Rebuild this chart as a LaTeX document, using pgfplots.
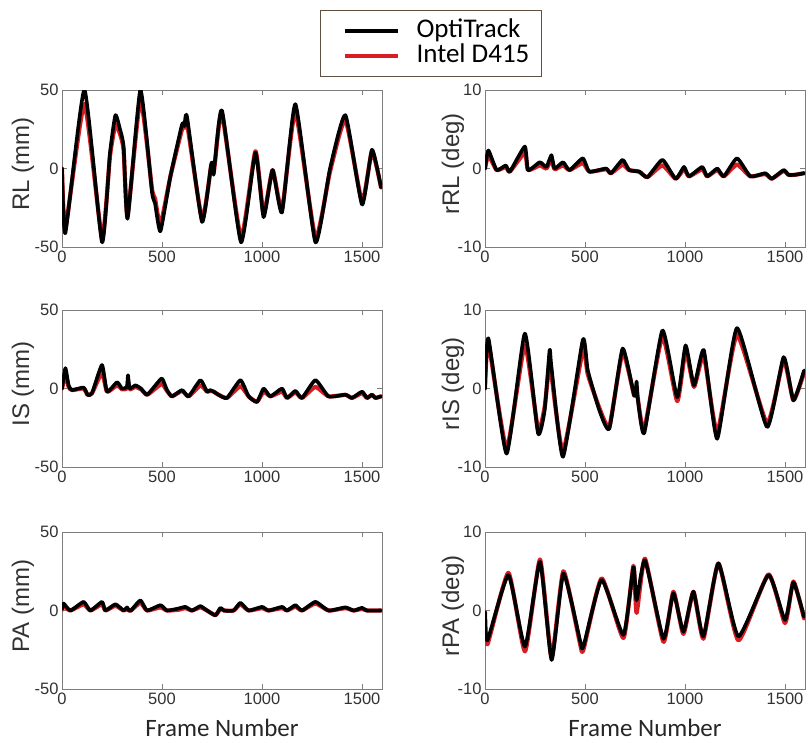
\documentclass[border=0pt]{standalone}
\usepackage{pgfplots}
\pgfplotsset{compat=1.18}
\usepackage{pgfplotstable}
\usepackage{fontspec}
\setmainfont{Liberation Sans}
\newfontfamily\arialf{Liberation Sans}
\newfontfamily\calibri{Carlito}
\definecolor{intelred}{RGB}{215,30,35}
\definecolor{axgray}{RGB}{125,125,125}
\definecolor{txtgray}{RGB}{50,50,50}
\definecolor{legframe}{RGB}{95,80,65}

\pgfplotstableread{
x o i
0 0 0
17 -41 -38
112 50 41
200 -47 -44
240 10 8
267 34 28
290 25 22
308 14 12
328 -32 -30
392 50 44
450 -15 -13
465 -22 -19
492 -40 -36
542 -5 -5
600 28 25
612 27 26
625 33 29
700 -34 -32
745 2 1
752 3 3
758 -4 -3
765 5 4
800 37 35
895 -47 -44
967 10 11
1008 -31 -29
1053 -1 -1
1100 -28 -26
1167 41 36
1267 -47 -44
1340 0 -2
1417 34 31
1500 -23 -21
1550 12 11
1595 -12 -12
}\RL

\pgfplotstableread{
x o i
0 0 0
17 2.3 1.7
58 -0.2 -0.2
104 0.4 0.2
124 -0.4 -0.4
199 2.8 2.0
215 -0.2 -0.2
274 0.8 0.4
307 0.2 0.0
332 1.7 1.1
348 0 -0.1
390 0.8 0.4
423 -0.2 -0.2
489 1.3 0.7
522 -0.4 -0.4
605 0 -0.1
630 -0.6 -0.6
688 1.1 0.5
721 -0.2 -0.2
771 -0.4 -0.4
812 -1.1 -1.1
887 1.1 0.4
953 -1.3 -1.3
995 0.2 -0.1
1020 -1.0 -1.0
1086 0.2 -0.1
1111 -1.0 -1.0
1161 0 -0.2
1194 -1.0 -1.0
1260 1.3 0.5
1327 -1.0 -1.0
1401 -0.6 -0.7
1434 -1.3 -1.3
1493 -0.2 -0.3
1517 -0.8 -0.8
1550 -0.8 -0.8
1595 -0.6 -0.6
}\rRL

\pgfplotstableread{
x o i
0 0 0
17 13 9
33 2 1
50 -1 -1
108 0.6 0
128 -4 -4
150 -3 -3
200 15 10
225 -2 -2
275 4 2
300 0 -0.5
325 1 0
330 8.5 5
338 0 -0.5
367 2 1
395 0 -0.5
425 -4 -4
467 2 0
500 6.4 3
525 -1 -1.5
550 -5 -5
600 -1 -1.5
633 -5 -5
692 5.3 2
725 -2 -2
740 -1 -1.5
758 -2 -2
783 -4 -4
825 -6 -6
892 5.3 1.5
933 -5 -5
975 -8.5 -8.5
1008 0 -2
1042 -5 -5
1100 0 -2
1125 -6 -6
1167 -1.5 -2.5
1200 -6 -6
1267 5.3 1
1333 -5 -5
1417 -4 -4
1450 -6 -6
1500 -2 -3
1525 -6 -6
1550 -4 -4
1567 -6 -6
1595 -5 -5
}\IS

\pgfplotstableread{
x o i
0 0 0
17 6.4 5.8
108 -8.3 -7.6
199 7.0 5.5
265 -5.7 -5.2
298 -2.8 -2.4
323 4.9 3.5
332 2.8 1.8
390 -8.7 -8.0
489 6.2 4.8
514 2.3 1.8
572 -2.8 -2.5
622 -5.1 -4.8
688 5.1 4.6
746 -0.9 -0.9
758 0.9 0.3
763 -1.1 -1.1
796 -5.7 -5.2
887 7.4 6.6
961 -1.1 -1.6
1003 5.5 4.8
1045 0.4 0.2
1094 4.9 4.2
1161 -6.4 -5.6
1260 7.7 6.8
1410 -4.9 -4.4
1493 4.0 3.6
1542 -1.5 -1.5
1595 2.3 2.0
}\rIS

\pgfplotstableread{
x o i
0 1 0.5
8 4.5 3
42 0 0
108 5.5 4
142 0 0
200 5.5 4
217 0 0
267 4 3
308 0 0
325 2 1
335 0 0
345 0 0
392 6.5 5
425 0 0
492 3.4 2
525 0 0
583 1.3 0.5
617 2.3 1.5
650 0 0
692 2.8 2
725 0 0
767 -3 -3
792 1.7 1
810 0 0
858 0 0
892 4.9 4
933 0 0
1000 2.3 1.5
1033 0 0
1100 2.3 1.5
1125 0 0
1167 3.4 2.5
1200 0 0
1267 5.5 4.5
1333 0 0
1417 2 1.5
1458 0 0
1500 1.7 1
1525 0 0
1595 0 0
}\PA

\pgfplotstableread{
x o i
0 -0.2 -0.2
12 -3.8 -4.3
117 4.5 4.8
200 -4.6 -5.2
275 6.2 6.5
333 -6.3 -6.0
392 4.7 5.0
475 -3.8 -4.2
492 -4.6 -5.0
583 3.9 4.1
692 -3.1 -3.5
742 5.5 5.7
758 1.3 -0.3
800 6.4 6.6
892 -3.6 -4.0
942 2.2 2.4
992 -2.7 -3.0
1042 2.4 2.4
1092 -3.3 -3.6
1167 6.0 6.0
1267 -3.3 -3.8
1417 4.5 4.6
1500 -1.2 -1.6
1542 3.6 3.7
1595 -0.8 -1.0
}\rPA

\pgfplotsset{
  panel/.style={
    scale only axis, width=320pt, height=157pt,
    xmin=0, xmax=1600, xtick={0,500,1000,1500},
    scaled x ticks=false, scaled y ticks=false,
    axis line style={draw=axgray, line width=0.9pt},
    tick style={draw=axgray, line width=0.8pt},
    major tick length=5pt, tick align=inside,
    tick label style={font=\arialf\fontsize{16.5}{18}\selectfont, text=txtgray},
    /pgf/number format/assume math mode=true,
    /pgf/number format/1000 sep={},
    ylabel style={font=\arialf\fontsize{24}{26}\selectfont, text=txtgray, at={(axis description cs:-0.122,0.53)}, anchor=center},
    xlabel style={font=\calibri\fontsize{25}{27}\selectfont, text=black!85, at={(axis description cs:0.5,-0.245)}, anchor=center},
  },
  mm/.style={panel, ymin=-50, ymax=50, ytick={-50,0,50}},
  deg/.style={panel, ymin=-10, ymax=10, ytick={-10,0,10}, ylabel style={at={(axis description cs:-0.1,0.53)}}},
  intelline/.style={intelred, line width=4.2pt, line join=round, line cap=round, smooth, tension=0.3},
  optiline/.style={black, line width=3.6pt, line join=round, line cap=round, smooth, tension=0.3},
}

\begin{document}
\begin{tikzpicture}
\useasboundingbox (0,0) rectangle (810pt,-742pt);

\begin{axis}[mm, at={(62pt,-90pt)}, anchor=north west, ylabel={RL (mm)},
  legend style={at={(axis description cs:1.153,1.296)}, anchor=center,
    draw=legframe, line width=1.5pt, fill=white, inner xsep=12pt, inner ysep=8pt,
    font=\calibri\fontsize{27}{28}\selectfont,
    nodes={inner sep=0pt, text height=19pt, text depth=6pt, anchor=west},
    row sep=0pt, /tikz/every odd column/.append style={column sep=17pt}},
  legend cell align=left,
  legend image code/.code={\path (0pt,0pt); \draw[#1] (10pt,0pt) -- (63pt,0pt);}]
\addlegendimage{black, line width=4pt}
\addlegendentry{OptiTrack}
\addlegendimage{intelred, line width=4pt}
\addlegendentry{Intel D415}
\addplot[intelline, forget plot] table[x=x, y=i] {\RL};
\addplot[optiline, forget plot] table[x=x, y=o] {\RL};
\end{axis}

\begin{axis}[deg, at={(485pt,-90pt)}, anchor=north west, ylabel={rRL (deg)}]
\addplot[intelline] table[x=x, y=i] {\rRL};
\addplot[optiline] table[x=x, y=o] {\rRL};
\end{axis}

\begin{axis}[mm, at={(62pt,-310pt)}, anchor=north west, ylabel={IS (mm)}]
\addplot[intelline] table[x=x, y=i] {\IS};
\addplot[optiline] table[x=x, y=o] {\IS};
\end{axis}

\begin{axis}[deg, at={(485pt,-310pt)}, anchor=north west, ylabel={rIS (deg)}]
\addplot[intelline] table[x=x, y=i] {\rIS};
\addplot[optiline] table[x=x, y=o] {\rIS};
\end{axis}

\begin{axis}[mm, at={(62pt,-532pt)}, anchor=north west, ylabel={PA (mm)}, xlabel={Frame Number}]
\addplot[intelline] table[x=x, y=i] {\PA};
\addplot[optiline] table[x=x, y=o] {\PA};
\end{axis}

\begin{axis}[deg, at={(485pt,-532pt)}, anchor=north west, ylabel={rPA (deg)}, xlabel={Frame Number}]
\addplot[intelline] table[x=x, y=i] {\rPA};
\addplot[optiline] table[x=x, y=o] {\rPA};
\end{axis}
\end{tikzpicture}
\end{document}
